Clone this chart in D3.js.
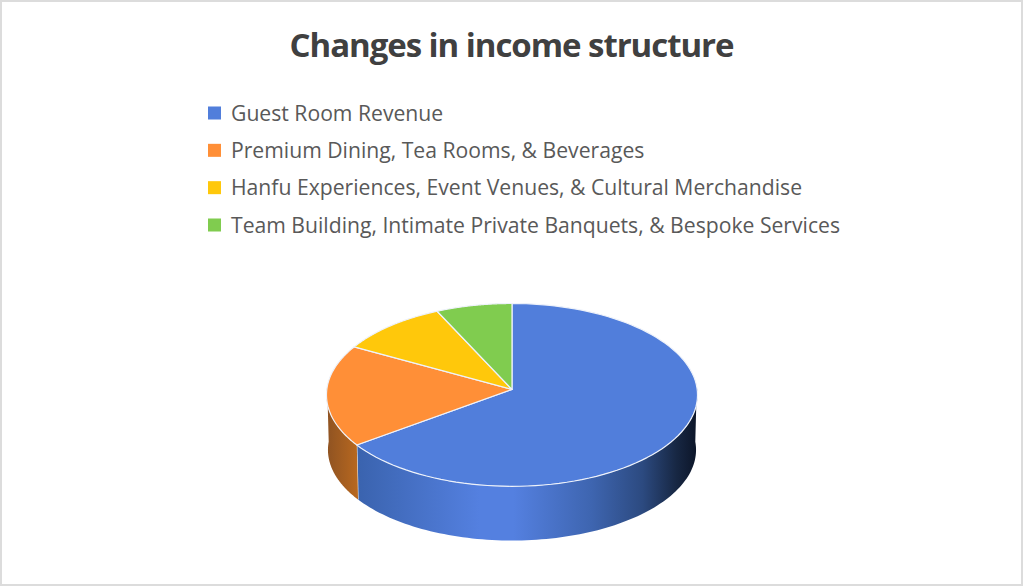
<!DOCTYPE html>
<html>
<head>
<meta charset="utf-8">
<script src="https://cdn.jsdelivr.net/npm/d3@7"></script>
<style>
  html, body { margin:0; padding:0; background:#fff; }
  svg { display:block; }
  text { font-family:"Open Sans", sans-serif; }
</style>
</head>
<body>
<div id="chart"></div>
<script>
// values, in percent
const categories = [
  "Guest Room Revenue",
  "Premium Dining, Tea Rooms, & Beverages",
  "Hanfu Experiences, Event Venues, & Cultural Merchandise",
  "Team Building, Intimate Private Banquets, & Bespoke Services"
];
const shares = [65, 18, 10, 7];
const colors = ["#517edb", "#ff8f37", "#ffc80b", "#80cc4f"];
const chartTitle = "Changes in income structure";

const w = 1024, h = 587;
const svg = d3.select("#chart").append("svg").attr("width", w).attr("height", h);
const defs = svg.append("defs");

svg.append("rect").attr("x",1).attr("y",1).attr("width",1021).attr("height",584)
  .attr("fill","#fff").attr("stroke","#dcdcdc").attr("stroke-width",2);

svg.append("text").attr("x",511.5).attr("y",57).attr("text-anchor","middle")
  .attr("font-size",33).attr("font-weight",700).attr("letter-spacing",-1.05).attr("fill","#404040")
  .text(chartTitle);

// legend
const color = d3.scaleOrdinal().domain(categories).range(colors);
const legendY = d3.scalePoint().domain(categories).range([113, 225]);
const rows = svg.selectAll("g.row").data(categories).enter().append("g")
  .attr("class","row").attr("transform", d => `translate(208,${legendY(d)})`);
rows.append("rect").attr("y",-6.5).attr("width",13).attr("height",13).attr("fill", d => color(d));
rows.append("text").attr("x",23).attr("y",7.5).attr("font-size",21.17).attr("fill","#595959")
  .text(d => d);

// the pie is slightly in perspective, so the centre sits above the middle of the ellipse
const cx = 512, cy = 389.5, rx = 185.2, ry = 91.1, persp = 0.059, depth = 55;
function project(angle, level) {
  const X = Math.sin(angle), Y = -Math.cos(angle);
  const s = level ? 0.992 : 1;
  const f = 1 - persp * Y;
  return [cx + s * rx * X / f, cy + (level ? depth : 0) + s * ry * Y / f];
}
function arcPoints(a0, a1, level) {
  return d3.range(0, 101).map(i => project(a0 + (a1 - a0) * i / 100, level));
}
const line = d3.line();
const arcs = d3.pie().sort(null).value(d => d)(shares);

// side wall shading
const wallStops = {
  0: [[0,"#3a63ae"],[0.36,"#5480e0"],[0.46,"#5480e0"],[0.69,"#3e65b0"],[0.84,"#2c4a80"],[0.94,"#172743"],[1,"#0c1528"]],
  1: [[0,"#8f5322"],[1,"#b8681f"]]
};
const wallExtent = { 0:[357,697], 1:[327,358] };
Object.keys(wallStops).forEach(k => {
  const g = defs.append("linearGradient").attr("id","wall"+k)
    .attr("gradientUnits","userSpaceOnUse")
    .attr("x1",wallExtent[k][0]).attr("x2",wallExtent[k][1]).attr("y1",0).attr("y2",0);
  wallStops[k].forEach(s => g.append("stop").attr("offset",s[0]).attr("stop-color",s[1]));
});

const wallFrom = Math.PI * 0.49, wallTo = Math.PI * 1.51;
arcs.forEach((a, i) => {
  const a0 = Math.max(a.startAngle, wallFrom), a1 = Math.min(a.endAngle, wallTo);
  if (a1 <= a0) return;
  const pts = arcPoints(a0, a1, 0).concat(arcPoints(a1, a0, 1));
  svg.append("path").attr("d", line(pts) + "Z").attr("fill", `url(#wall${i})`);
  svg.append("path").attr("d", line([project(a1,0), project(a1,1)]))
    .attr("stroke","#e6e6e6").attr("stroke-width", a1 < wallTo ? 1.2 : 0).attr("fill","none");
});

// top face
arcs.forEach((a, i) => {
  const pts = [[cx, cy]].concat(arcPoints(a.startAngle, a.endAngle, 0));
  svg.append("path").attr("d", line(pts) + "Z").attr("fill", colors[i])
    .attr("stroke","#eef2fa").attr("stroke-width",1.2).attr("stroke-linejoin","round");
});
</script>
</body>
</html>
